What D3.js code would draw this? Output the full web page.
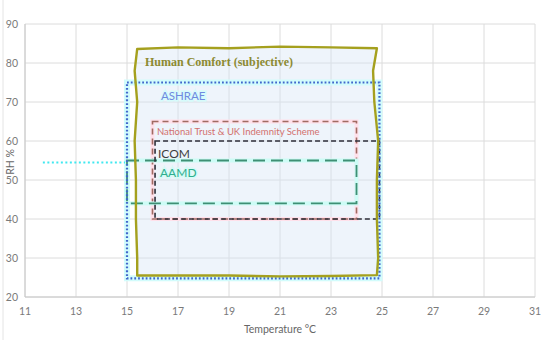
<!DOCTYPE html>
<html>
<head>
<meta charset="utf-8">
<script src="https://cdn.jsdelivr.net/npm/d3@7.9.0/dist/d3.min.js"></script>
<style>
  body { margin: 0; background: #fff; }
  text { font-family: Lato, "Open Sans", sans-serif; }
</style>
</head>
<body>
<svg id="chart" width="550" height="347"></svg>
<script>
// axis ticks
const xTicks = [11, 13, 15, 17, 19, 21, 23, 25, 27, 29, 31];
const yTicks = [20, 30, 40, 50, 60, 70, 80, 90];

// zones: [tMin, tMax, rhMin, rhMax]
const ashrae = [15, 24.9, 24.8, 75];
const nationalTrust = [16, 24, 40, 65];
const icom = [16.1, 24.9, 40, 60];
const aamd = [15, 24, 44, 55];

// hand drawn outline of the human comfort zone [temp, rh]
const humanComfort = [
  [15.4, 83.6], [17, 84.0], [19, 83.8], [21, 84.2], [23, 84.0], [24.8, 83.8],
  [24.65, 78], [24.7, 70], [24.85, 60], [24.8, 50], [24.8, 40], [24.85, 30], [24.8, 25.6],
  [23, 25.4], [21, 25.3], [19, 25.5], [17, 25.5], [15.4, 25.5],
  [15.4, 30], [15.35, 40], [15.35, 50], [15.3, 60], [15.4, 70], [15.3, 78]
];

// stray cyan dotted guide at left
const guideLine = [[11.7, 54.5], [15, 54.5]];

const svg = d3.select('#chart');
const x = d3.scaleLinear().domain([11, 31]).range([25, 535]);
const y = d3.scaleLinear().domain([20, 90]).range([297, 24]);

// faint chart frame
svg.append('line').attr('x1', 3).attr('x2', 3).attr('y1', 0).attr('y2', 340)
  .attr('stroke', '#e4e4e4').attr('stroke-width', 1);

// gridlines
svg.append('g').selectAll('line').data(xTicks).join('line')
  .attr('x1', d => x(d)).attr('x2', d => x(d))
  .attr('y1', y(20)).attr('y2', y(90))
  .attr('stroke', '#dcdcdc').attr('stroke-width', 1);
svg.append('g').selectAll('line').data(yTicks).join('line')
  .attr('x1', x(11)).attr('x2', x(31))
  .attr('y1', d => y(d)).attr('y2', d => y(d))
  .attr('stroke', '#dcdcdc').attr('stroke-width', 1);

// axis lines
svg.append('line').attr('x1', x(11)).attr('x2', x(11)).attr('y1', y(20)).attr('y2', y(90))
  .attr('stroke', '#c8c8c8');
svg.append('line').attr('x1', x(11)).attr('x2', x(31)).attr('y1', y(20)).attr('y2', y(20))
  .attr('stroke', '#c8c8c8');

// tick labels
svg.append('g').selectAll('text').data(xTicks).join('text')
  .attr('x', d => x(d)).attr('y', 315)
  .attr('text-anchor', 'middle').attr('font-size', 10.5).attr('fill', '#7a7a7a')
  .text(d => d);
svg.append('g').selectAll('text').data(yTicks).join('text')
  .attr('x', 18).attr('y', d => y(d) + 4)
  .attr('text-anchor', 'end').attr('font-size', 10.5).attr('fill', '#7a7a7a')
  .text(d => d);

// axis titles
svg.append('text').attr('x', 280).attr('y', 333).attr('text-anchor', 'middle')
  .attr('font-size', 10.5).attr('fill', '#666').text('Temperature °C');
svg.append('text').attr('transform', 'translate(14,162) rotate(-90)').attr('text-anchor', 'middle')
  .attr('font-size', 10.5).attr('fill', '#666').text('RH %');

function rect(z) {
  return { x: x(z[0]), y: y(z[3]), w: x(z[1]) - x(z[0]), h: y(z[2]) - y(z[3]) };
}

const line = d3.line().x(d => x(d[0])).y(d => y(d[1]));
const outline = d3.line().x(d => x(d[0])).y(d => y(d[1])).curve(d3.curveLinearClosed);

// human comfort fill
svg.append('path').attr('d', outline(humanComfort)).attr('fill', 'rgba(215,228,246,0.42)');

// ashrae glow
const a = rect(ashrae);
svg.append('rect').attr('x', a.x).attr('y', a.y).attr('width', a.w).attr('height', a.h)
  .attr('fill', 'none').attr('stroke', '#d2fcfc').attr('stroke-width', 6);

// cyan guide
svg.append('path').attr('d', line(guideLine)).attr('fill', 'none')
  .attr('stroke', '#40e8f0').attr('stroke-width', 2).attr('stroke-dasharray', '2,2.5');

// national trust
const n = rect(nationalTrust);
svg.append('rect').attr('x', n.x).attr('y', n.y).attr('width', n.w).attr('height', n.h)
  .attr('fill', 'none').attr('stroke', '#ffe0ea').attr('stroke-width', 4);
svg.append('rect').attr('x', n.x).attr('y', n.y).attr('width', n.w).attr('height', n.h)
  .attr('fill', 'none').attr('stroke', '#a06a62').attr('stroke-width', 1.6).attr('stroke-dasharray', '6,4');

// aamd
const m = rect(aamd);
svg.append('rect').attr('x', m.x).attr('y', m.y).attr('width', m.w).attr('height', m.h)
  .attr('fill', 'none').attr('stroke', '#cdfcf6').attr('stroke-width', 4);
svg.append('rect').attr('x', m.x).attr('y', m.y).attr('width', m.w).attr('height', m.h)
  .attr('fill', 'none').attr('stroke', '#3f8f74').attr('stroke-width', 1.8).attr('stroke-dasharray', '12,6');

// icom
const c = rect(icom);
svg.append('rect').attr('x', c.x).attr('y', c.y).attr('width', c.w).attr('height', c.h)
  .attr('fill', 'none').attr('stroke', '#2e2e38').attr('stroke-width', 1.6).attr('stroke-dasharray', '5,3');

// ashrae dotted border
svg.append('rect').attr('x', a.x).attr('y', a.y).attr('width', a.w).attr('height', a.h)
  .attr('fill', 'none').attr('stroke', '#4066cc').attr('stroke-width', 2.2).attr('stroke-dasharray', '1.8,2');

// human comfort outline
svg.append('path').attr('d', outline(humanComfort)).attr('fill', 'none')
  .attr('stroke', '#a5a01e').attr('stroke-width', 2.4).attr('stroke-linejoin', 'round');

// labels
svg.append('text').attr('x', 145).attr('y', 66)
  .style('font-family', '"Liberation Serif", "DejaVu Serif", serif').attr('font-weight', 'bold')
  .attr('font-size', 12).attr('fill', '#8c8a32').text('Human Comfort (subjective)');
svg.append('text').attr('x', 161).attr('y', 100).attr('font-size', 11.5)
  .attr('fill', '#7088e0').attr('stroke', '#d6fbfb').attr('stroke-width', 3).attr('paint-order', 'stroke')
  .text('ASHRAE');
svg.append('text').attr('x', 157).attr('y', 135).attr('font-size', 9.5)
  .attr('fill', '#d2706e').text('National Trust & UK Indemnity Scheme');
svg.append('text').attr('x', 158).attr('y', 158).attr('font-size', 12)
  .attr('fill', '#3e3e3e').text('ICOM');
svg.append('text').attr('x', 160).attr('y', 177).attr('font-size', 12)
  .attr('fill', '#2fae8e').attr('stroke', '#d6fbf6').attr('stroke-width', 3).attr('paint-order', 'stroke')
  .text('AAMD');
</script>
</body>
</html>
